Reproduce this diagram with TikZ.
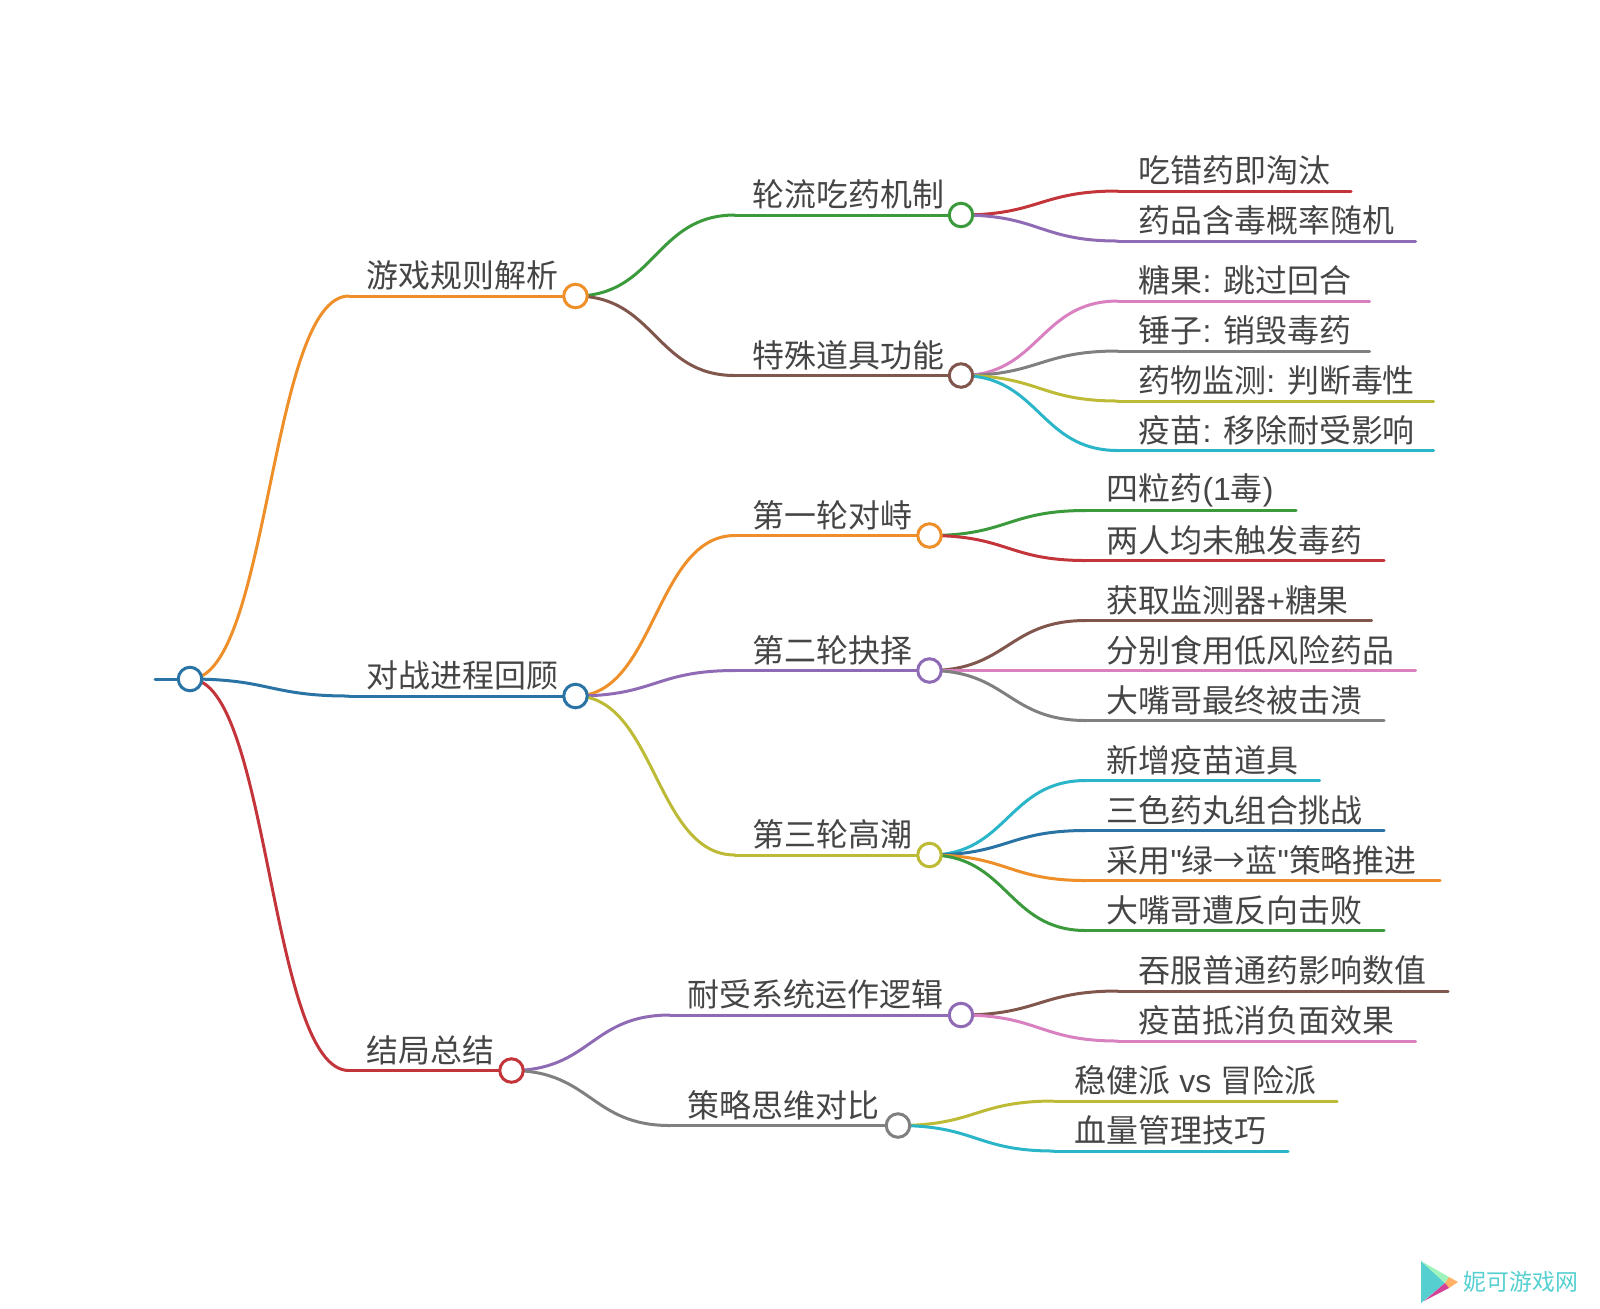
\documentclass[tikz,border=0pt]{standalone}
\usepackage{fontspec}
\setmainfont{Noto Sans CJK SC}
\newfontfamily\lat{Liberation Sans}
\definecolor{cblue}{HTML}{2A73A5}
\definecolor{corange}{HTML}{EE8F2A}
\definecolor{cgreen}{HTML}{3B9A3C}
\definecolor{cred}{HTML}{C3353A}
\definecolor{cpurple}{HTML}{8F6BB5}
\definecolor{cbrown}{HTML}{80564D}
\definecolor{cpink}{HTML}{D880C0}
\definecolor{cgray}{HTML}{808080}
\definecolor{colive}{HTML}{BDBB35}
\definecolor{ccyan}{HTML}{2AB5C8}
\definecolor{ctext}{HTML}{454545}
\definecolor{cmark}{HTML}{55CFD0}
\usetikzlibrary{calc,backgrounds}
\tikzset{
	dot/.style={draw,circle,fill=white,inner sep=0pt,minimum size=0.235cm,line width=0.03cm},
	link/.style={line width=0.03cm,line cap=round},
	branch/.style={to path={let \p1=(\tikztostart), \p2=(\tikztotarget) in .. controls ({0.5*\x1+0.5*\x2},\y1) and ({0.5*\x1+0.5*\x2},\y2) .. (\p2)}},
	txt/.style={anchor=west,inner sep=0pt,text=ctext,font=\fontsize{9.08pt}{9.08pt}\selectfont,xshift=0.2cm,yshift=0.205cm},
	midtxt/.style={txt,xshift=-0.03cm},
}
\begin{document}
\begin{tikzpicture}[x=0.01cm,y=-0.01cm]
			\useasboundingbox (0,0) rectangle (1600,1308);
			% first and second level
			\coordinate (s) at (155,679);
			\node	(r) at (190,679) [dot,draw=cblue] {};
			\node	(a) at (575.5,296) [dot,draw=corange] {};
			\node	(b) at (575.5,696) [dot,draw=cblue] {};
			\node	(c) at (511.5,1070.5) [dot,draw=cred] {};
			\node	(aa) at (961,215) [dot,draw=cgreen] {};
			\node	(ab) at (961,375.5) [dot,draw=cbrown] {};
			\node	(ba) at (929.5,535.5) [dot,draw=corange] {};
			\node	(bb) at (929.5,670.5) [dot,draw=cpurple] {};
			\node	(bc) at (929.5,855) [dot,draw=colive] {};
			\node	(ca) at (961,1015) [dot,draw=cpurple] {};
			\node	(cb) at (898,1125.5) [dot,draw=cgray] {};
			% where the curves end
			\coordinate (a0) at (349,296);
			\coordinate (b0) at (349,696);
			\coordinate (c0) at (349,1070.5);
			\coordinate (aa0) at (735,215);
			\coordinate (ab0) at (735,375.5);
			\coordinate (ba0) at (735,535.5);
			\coordinate (bb0) at (735,670.5);
			\coordinate (bc0) at (735,855);
			\coordinate (ca0) at (670,1015);
			\coordinate (cb0) at (670,1125.5);
			% leaves
			\coordinate (aaa) at (1118,191);
			\coordinate (aaa1) at (1351,191);
			\coordinate (aab) at (1118,241);
			\coordinate (aab1) at (1415.5,241);
			\coordinate (aba) at (1118,301);
			\coordinate (aba1) at (1369.5,301);
			\coordinate (abb) at (1118,351);
			\coordinate (abb1) at (1369.5,351);
			\coordinate (abc) at (1118,401);
			\coordinate (abc1) at (1433.5,401);
			\coordinate (abd) at (1118,450.5);
			\coordinate (abd1) at (1433.5,450.5);
			\coordinate (baa) at (1086,510.5);
			\coordinate (baa1) at (1296,510.5);
			\coordinate (bab) at (1086,560.5);
			\coordinate (bab1) at (1384,560.5);
			\coordinate (bba) at (1086,620.5);
			\coordinate (bba1) at (1371.5,620.5);
			\coordinate (bbb) at (1086,670.5);
			\coordinate (bbb1) at (1415.5,670.5);
			\coordinate (bbc) at (1086,720.5);
			\coordinate (bbc1) at (1384,720.5);
			\coordinate (bca) at (1086,780.5);
			\coordinate (bca1) at (1319.5,780.5);
			\coordinate (bcb) at (1086,830.5);
			\coordinate (bcb1) at (1384,830.5);
			\coordinate (bcc) at (1086,880.5);
			\coordinate (bcc1) at (1440,880.5);
			\coordinate (bcd) at (1086,930.5);
			\coordinate (bcd1) at (1384,930.5);
			\coordinate (caa) at (1118,991);
			\coordinate (caa1) at (1448,991);
			\coordinate (cab) at (1118,1041);
			\coordinate (cab1) at (1415.5,1041);
			\coordinate (cba) at (1054,1101);
			\coordinate (cba1) at (1337,1101);
			\coordinate (cbb) at (1054,1151);
			\coordinate (cbb1) at (1288,1151);
			\begin{scope}[on background layer]
			\draw[link]
			(s) edge[cblue] (r.center)
			(r.center) edge[branch,corange] (a0)
			(a0) edge[corange] (a.center)
			(r.center) edge[branch,cred] (c0)
			(c0) edge[cred] (c.center)
			(r.center) edge[branch,cblue] (b0)
			(b0) edge[cblue] (b.center)
			(a.center) edge[branch,cgreen] (aa0)
			(aa0) edge[cgreen] (aa.center)
			(a.center) edge[branch,cbrown] (ab0)
			(ab0) edge[cbrown] (ab.center)
			(b.center) edge[branch,corange] (ba0)
			(ba0) edge[corange] (ba.center)
			(b.center) edge[branch,cpurple] (bb0)
			(bb0) edge[cpurple] (bb.center)
			(b.center) edge[branch,colive] (bc0)
			(bc0) edge[colive] (bc.center)
			(c.center) edge[branch,cpurple] (ca0)
			(ca0) edge[cpurple] (ca.center)
			(c.center) edge[branch,cgray] (cb0)
			(cb0) edge[cgray] (cb.center)
			(aa.center) edge[branch,cred] (aaa)
			(aaa) edge[cred] (aaa1)
			(aa.center) edge[branch,cpurple] (aab)
			(aab) edge[cpurple] (aab1)
			(ab.center) edge[branch,cpink] (aba)
			(aba) edge[cpink] (aba1)
			(ab.center) edge[branch,cgray] (abb)
			(abb) edge[cgray] (abb1)
			(ab.center) edge[branch,colive] (abc)
			(abc) edge[colive] (abc1)
			(ab.center) edge[branch,ccyan] (abd)
			(abd) edge[ccyan] (abd1)
			(ba.center) edge[branch,cgreen] (baa)
			(baa) edge[cgreen] (baa1)
			(ba.center) edge[branch,cred] (bab)
			(bab) edge[cred] (bab1)
			(bb.center) edge[branch,cbrown] (bba)
			(bba) edge[cbrown] (bba1)
			(bb.center) edge[branch,cpink] (bbb)
			(bbb) edge[cpink] (bbb1)
			(bb.center) edge[branch,cgray] (bbc)
			(bbc) edge[cgray] (bbc1)
			(bc.center) edge[branch,ccyan] (bca)
			(bca) edge[ccyan] (bca1)
			(bc.center) edge[branch,cblue] (bcb)
			(bcb) edge[cblue] (bcb1)
			(bc.center) edge[branch,corange] (bcc)
			(bcc) edge[corange] (bcc1)
			(bc.center) edge[branch,cgreen] (bcd)
			(bcd) edge[cgreen] (bcd1)
			(ca.center) edge[branch,cbrown] (caa)
			(caa) edge[cbrown] (caa1)
			(ca.center) edge[branch,cpink] (cab)
			(cab) edge[cpink] (cab1)
			(cb.center) edge[branch,colive] (cba)
			(cba) edge[colive] (cba1)
			(cb.center) edge[branch,ccyan] (cbb)
			(cbb) edge[ccyan] (cbb1)
			;
			\end{scope}
			% texts
			\node (ta) at (a0) [midtxt] {游戏规则解析};
			\node (tb) at (b0) [midtxt] {对战进程回顾};
			\node (tc) at (c0) [midtxt] {结局总结};
			\node (taa) at (aa0) [midtxt] {轮流吃药机制};
			\node (tab) at (ab0) [midtxt] {特殊道具功能};
			\node (tba) at (ba0) [midtxt] {第一轮对峙};
			\node (tbb) at (bb0) [midtxt] {第二轮抉择};
			\node (tbc) at (bc0) [midtxt] {第三轮高潮};
			\node (tca) at (ca0) [midtxt] {耐受系统运作逻辑};
			\node (tcb) at (cb0) [midtxt] {策略思维对比};
			\node (taaa) at (aaa) [txt] {吃错药即淘汰};
			\node (taab) at (aab) [txt] {药品含毒概率随机};
			\node (taba) at (aba) [txt] {糖果{\lat : }跳过回合};
			\node (tabb) at (abb) [txt] {锤子{\lat : }销毁毒药};
			\node (tabc) at (abc) [txt] {药物监测{\lat : }判断毒性};
			\node (tabd) at (abd) [txt] {疫苗{\lat : }移除耐受影响};
			\node (tbaa) at (baa) [txt] {四粒药{\lat (1}毒{\lat )}};
			\node (tbab) at (bab) [txt] {两人均未触发毒药};
			\node (tbba) at (bba) [txt] {获取监测器{\lat +}糖果};
			\node (tbbb) at (bbb) [txt] {分别食用低风险药品};
			\node (tbbc) at (bbc) [txt] {大嘴哥最终被击溃};
			\node (tbca) at (bca) [txt] {新增疫苗道具};
			\node (tbcb) at (bcb) [txt] {三色药丸组合挑战};
			\node (tbcc) at (bcc) [txt] {采用{\lat "}绿→蓝{\lat "}策略推进};
			\node (tbcd) at (bcd) [txt] {大嘴哥遭反向击败};
			\node (tcaa) at (caa) [txt] {吞服普通药影响数值};
			\node (tcab) at (cab) [txt] {疫苗抵消负面效果};
			\node (tcba) at (cba) [txt] {稳健派{\lat ~vs~}冒险派};
			\node (tcbb) at (cbb) [txt] {血量管理技巧};
			% mark in the corner
			\fill[cmark] (1421,1261) -- (1445,1283) -- (1421,1303) -- cycle;
			\fill[green!50!cmark!45] (1421,1261) -- (1449,1277) -- (1445,1283) -- cycle;
			\fill[orange!60] (1449,1277) -- (1458,1282) -- (1449,1288) -- (1445,1283) -- cycle;
			\fill[magenta!70!gray] (1424,1301) -- (1449,1288) -- (1445,1283) -- cycle;
			\node (mark) at (1521,1282) [inner sep=0pt,text=cmark,font=\fontsize{6.5pt}{6.5pt}\selectfont] {妮可游戏网};
		\end{tikzpicture}
\end{document}
